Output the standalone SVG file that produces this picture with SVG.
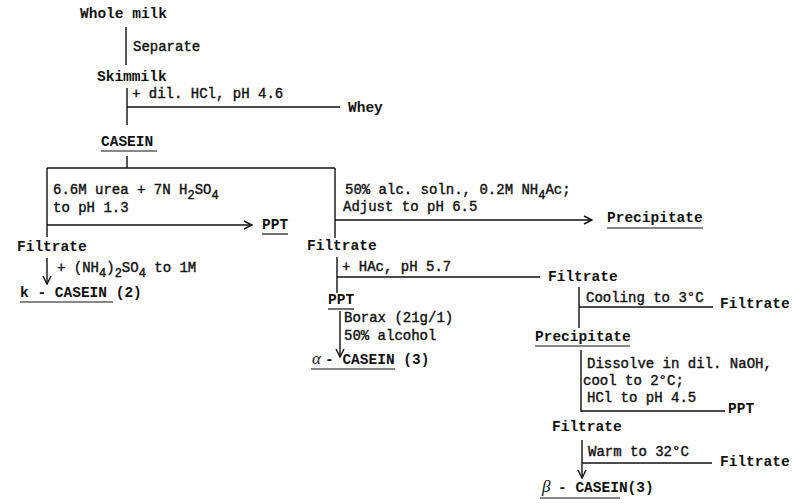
<svg xmlns="http://www.w3.org/2000/svg" width="795" height="504" viewBox="0 0 795 504">
<defs>
<marker id="open" viewBox="0 0 10 10" refX="9" refY="5" markerWidth="10" markerHeight="10" markerUnits="userSpaceOnUse" orient="auto">
<path d="M1,1 L9,5 L1,9" fill="none" stroke="#111" stroke-width="1.4"/>
</marker>
</defs>
<style>
.t{font-family:"Liberation Mono","DejaVu Sans Mono",monospace;font-size:14.5px;fill:#111}
.b{font-weight:bold}
.c{font-family:"Liberation Mono","DejaVu Sans Mono",monospace;font-size:14px;fill:#111;stroke:#111;stroke-width:0.4}
.sub{font-size:12px}
.g{font-family:"Liberation Serif",serif;font-style:italic;font-size:17px;fill:#111}
.ln{stroke:#111;stroke-width:1.4;fill:none}
.ul{stroke:#111;stroke-width:1.2}
.ar{stroke:#111;stroke-width:1.4;fill:none;marker-end:url(#open)}
</style>
<rect width="795" height="504" fill="#fff"/>
<g id="connectors">
<line class="ln" x1="126" y1="27" x2="126" y2="65"/>
<line class="ln" x1="127" y1="88" x2="127" y2="125"/>
<line class="ln" x1="127" y1="107" x2="340" y2="107"/>
<line class="ln" x1="127" y1="156" x2="127" y2="168"/>
<line class="ln" x1="47" y1="168" x2="335" y2="168"/>
<line class="ln" x1="47" y1="168" x2="47" y2="237"/>
<line class="ar" x1="47" y1="225" x2="252" y2="225"/>
<line class="ln" x1="335" y1="168" x2="335" y2="238"/>
<line class="ar" x1="335" y1="220" x2="592" y2="220"/>
<line class="ar" x1="47" y1="258" x2="47" y2="284"/>
<line class="ln" x1="337" y1="257" x2="337" y2="293"/>
<line class="ln" x1="337" y1="277" x2="540" y2="277"/>
<line class="ar" x1="340" y1="311" x2="340" y2="357"/>
<line class="ln" x1="579" y1="287" x2="579" y2="328"/>
<line class="ln" x1="579" y1="307" x2="713" y2="307"/>
<line class="ln" x1="581" y1="350" x2="581" y2="412"/>
<line class="ln" x1="581" y1="411" x2="725" y2="411"/>
<line class="ln" x1="582" y1="440" x2="582" y2="463"/>
<line class="ln" x1="582" y1="463" x2="712" y2="463"/>
<line class="ar" x1="582" y1="463" x2="582" y2="478"/>
<g id="labels">
<text class="c" x="133" y="51">Separate</text>
<text class="c" x="132" y="98">+ dil. HCl, pH 4.6</text>
<text class="c" x="53" y="194">6.6M urea + 7N H<tspan class="sub" dy="5">2</tspan><tspan dy="-5">SO</tspan><tspan class="sub" dy="5">4</tspan></text>
<text class="c" x="53" y="212">to pH 1.3</text>
<text class="c" x="345" y="194">50% alc. soln., 0.2M NH<tspan class="sub" dy="5">4</tspan><tspan dy="-5">Ac;</tspan></text>
<text class="c" x="343" y="211">Adjust to pH 6.5</text>
<text class="c" x="57" y="272">+ (NH<tspan class="sub" dy="5">4</tspan><tspan dy="-5">)</tspan><tspan class="sub" dy="5">2</tspan><tspan dy="-5">SO</tspan><tspan class="sub" dy="5">4</tspan><tspan dy="-5"> to 1M</tspan></text>
<text class="c" x="342" y="271">+ HAc, pH 5.7</text>
<text class="c" x="344" y="322">Borax (21g/1)</text>
<text class="c" x="344" y="340">50% alcohol</text>
<text class="c" x="586" y="302">Cooling to 3°C</text>
<text class="c" x="587" y="368">Dissolve in dil. NaOH,</text>
<text class="c" x="583" y="385">cool to 2°C;</text>
<text class="c" x="587" y="402">HCl to pH 4.5</text>
<text class="c" x="588" y="456">Warm to 32°C</text>
</g>
</g>
<g id="whole-milk"><text class="t b" x="80" y="18">Whole milk</text></g>
<g id="skimmilk"><text class="t b" x="97" y="81">Skimmilk</text></g>
<g id="whey"><text class="t b" x="348" y="112">Whey</text></g>
<g id="casein"><text class="t b" x="101" y="146">CASEIN</text><line class="ul" x1="101" y1="151" x2="157" y2="151"/></g>
<g id="ppt-1"><text class="t b" x="262" y="229">PPT</text><line class="ul" x1="262" y1="234" x2="288" y2="234"/></g>
<g id="filtrate-1"><text class="t b" x="17" y="251">Filtrate</text></g>
<g id="k-casein"><text class="t b" x="20" y="297">k - CASEIN (2)</text><line class="ul" x1="20" y1="302" x2="113" y2="302"/></g>
<g id="precipitate-1"><text class="t b" x="607" y="222">Precipitate</text><line class="ul" x1="607" y1="228" x2="703" y2="228"/></g>
<g id="filtrate-2"><text class="t b" x="307" y="250">Filtrate</text></g>
<g id="filtrate-3"><text class="t b" x="548" y="281">Filtrate</text></g>
<g id="ppt-2"><text class="t b" x="328" y="304">PPT</text><line class="ul" x1="328" y1="309" x2="354" y2="309"/></g>
<g id="alpha-casein"><text class="g" x="312" y="364">α</text><text class="t b" x="325" y="364">- CASEIN (3)</text><line class="ul" x1="311" y1="369" x2="395" y2="369"/></g>
<g id="filtrate-4"><text class="t b" x="720" y="308">Filtrate</text></g>
<g id="precipitate-2"><text class="t b" x="535" y="341">Precipitate</text><line class="ul" x1="535" y1="346" x2="630" y2="346"/></g>
<g id="ppt-3"><text class="t b" x="728" y="413">PPT</text></g>
<g id="filtrate-5"><text class="t b" x="552" y="431">Filtrate</text></g>
<g id="filtrate-6"><text class="t b" x="720" y="466">Filtrate</text></g>
<g id="beta-casein"><text class="g" x="542" y="492">β</text><text class="t b" x="558" y="492">- CASEIN(3)</text><line class="ul" x1="540" y1="498" x2="620" y2="498"/></g>
</svg>
